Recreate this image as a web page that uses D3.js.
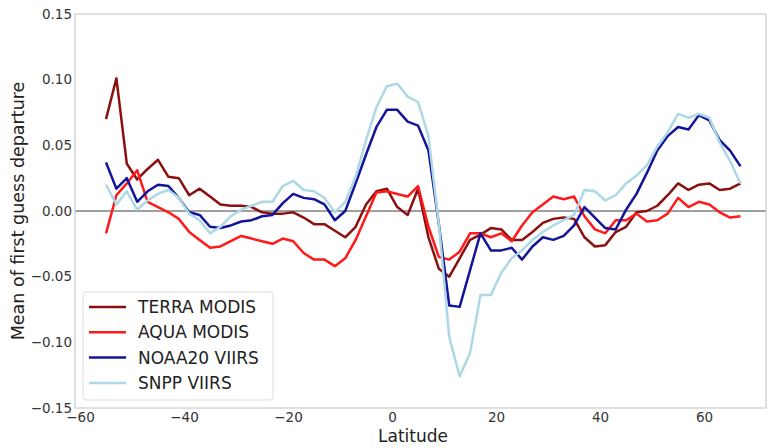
<!DOCTYPE html>
<html><head><meta charset="utf-8">
<script src="https://cdn.jsdelivr.net/npm/d3@7"></script>
<style>html,body{margin:0;padding:0;background:#fff;} svg{display:block;}</style>
</head><body>
<svg id="c" width="768" height="448"></svg>
<script>
const latitudes = d3.range(-55, 68, 2);
const terraModis = [0.070,0.101,0.036,0.024,0.032,0.039,0.026,0.025,0.012,0.017,0.011,0.005,0.004,0.004,0.003,-0.001,
 -0.002,-0.002,-0.001,-0.005,-0.010,-0.010,-0.015,-0.020,-0.012,0.005,0.015,0.017,0.003,-0.003,0.017,-0.020,
 -0.044,-0.050,-0.036,-0.022,-0.018,-0.013,-0.014,-0.022,-0.022,-0.016,-0.009,-0.006,-0.005,-0.006,-0.020,-0.027,
 -0.026,-0.016,-0.012,-0.001,0.000,0.004,0.012,0.021,0.016,0.020,0.021,0.016,0.017,0.021];
const aquaModis = [-0.017,0.012,0.021,0.031,0.007,0.003,-0.001,-0.006,-0.016,-0.022,-0.028,-0.027,-0.023,-0.019,-0.021,-0.023,
 -0.025,-0.021,-0.023,-0.032,-0.037,-0.037,-0.042,-0.036,-0.022,-0.004,0.014,0.015,0.013,0.011,0.019,-0.012,
 -0.035,-0.037,-0.031,-0.017,-0.017,-0.020,-0.017,-0.023,-0.011,-0.001,0.005,0.011,0.009,0.011,-0.004,-0.014,
 -0.017,-0.007,-0.007,-0.002,-0.008,-0.007,-0.002,0.010,0.003,0.007,0.005,-0.001,-0.005,-0.004];
const noaa20Viirs = [0.037,0.017,0.025,0.007,0.015,0.020,0.019,0.010,-0.001,-0.003,-0.012,-0.013,-0.011,-0.008,-0.007,-0.004,
 -0.003,0.006,0.013,0.010,0.009,0.005,-0.007,0.000,0.021,0.043,0.064,0.077,0.077,0.068,0.065,0.046,
 -0.010,-0.072,-0.073,-0.045,-0.017,-0.030,-0.030,-0.028,-0.037,-0.027,-0.020,-0.022,-0.019,-0.011,0.003,-0.005,
 -0.013,-0.014,0.001,0.013,0.029,0.046,0.057,0.064,0.062,0.073,0.069,0.054,0.046,0.034];
const snppViirs = [0.020,0.005,0.015,0.001,0.008,0.013,0.016,0.010,-0.002,-0.007,-0.017,-0.012,-0.004,0.001,0.004,0.007,
 0.007,0.019,0.023,0.016,0.015,0.010,-0.001,0.007,0.026,0.054,0.079,0.095,0.097,0.087,0.083,0.057,
 -0.010,-0.096,-0.126,-0.108,-0.064,-0.064,-0.047,-0.036,-0.030,-0.022,-0.016,-0.011,-0.007,-0.003,0.016,0.015,
 0.008,0.012,0.021,0.027,0.035,0.049,0.060,0.074,0.071,0.074,0.071,0.052,0.038,0.021];
const seriesNames = ["TERRA MODIS","AQUA MODIS","NOAA20 VIIRS","SNPP VIIRS"];
const seriesColors = ["#8b1010","#ff1a1a","#14149a","#add8e6"];
const seriesValues = [terraModis, aquaModis, noaa20Viirs, snppViirs];
const xTicks = [-60,-40,-20,0,20,40,60];
const yTicks = [-0.15,-0.10,-0.05,0.00,0.05,0.10,0.15];

const svg = d3.select("#c");
const L = 75, R = 766, T = 14, B = 408;
const x = d3.scaleLinear().domain([-60.96, 71.9]).range([L, R]);
const y = d3.scaleLinear().domain([-0.15, 0.15]).range([B, T]);
const font = "DejaVu Sans, sans-serif";

// zero line
svg.append("line").attr("x1", L).attr("x2", R).attr("y1", y(0)).attr("y2", y(0))
  .attr("stroke", "#7f7f7f").attr("stroke-width", 1.5);

const line = d3.line().x((d,i) => x(latitudes[i])).y(d => y(d));
seriesValues.forEach((vals, k) => {
  svg.append("path").datum(vals).attr("d", line).attr("fill", "none")
    .attr("stroke", seriesColors[k]).attr("stroke-width", 2.5).attr("stroke-linejoin", "round");
});

// frame
svg.append("rect").attr("x", L).attr("y", T).attr("width", R - L).attr("height", B - T)
  .attr("fill", "none").attr("stroke", "#cccccc").attr("stroke-width", 1.2);

// axes
const xAxis = svg.append("g").attr("transform", `translate(0,${B})`)
  .call(d3.axisBottom(x).tickValues(xTicks).tickSize(0).tickPadding(4).tickFormat(d => d < 0 ? "\u2212" + Math.abs(d) : d));
const yAxis = svg.append("g").attr("transform", `translate(${L},0)`)
  .call(d3.axisLeft(y).tickValues(yTicks).tickSize(0).tickPadding(3).tickFormat(d => (d < 0 ? "\u2212" : "") + Math.abs(d).toFixed(2)));
[xAxis, yAxis].forEach(g => {
  g.select(".domain").remove();
  g.selectAll("text").attr("font-family", font).attr("font-size", 13.5).attr("fill", "#333");
});

svg.append("text").attr("x", 413).attr("y", 442).attr("text-anchor", "middle")
  .attr("font-family", font).attr("font-size", 17).attr("fill", "#222").text("Latitude");
svg.append("text").attr("transform", `translate(24,${(T + B) / 2}) rotate(-90)`).attr("text-anchor", "middle")
  .attr("font-family", font).attr("font-size", 17.5).attr("fill", "#222").text("Mean of first guess departure");

// legend
const lg = svg.append("g");
lg.append("rect").attr("x", 83).attr("y", 292).attr("width", 190).attr("height", 108).attr("rx", 3)
  .attr("fill", "#fff").attr("fill-opacity", 0.8).attr("stroke", "#dddddd");
seriesNames.forEach((n, k) => {
  const yy = 307 + k * 25.3;
  lg.append("line").attr("x1", 89).attr("x2", 126).attr("y1", yy).attr("y2", yy)
    .attr("stroke", seriesColors[k]).attr("stroke-width", 2.5);
  lg.append("text").attr("x", 138).attr("y", yy).attr("dy", "0.36em")
    .attr("font-family", font).attr("font-size", 17).attr("fill", "#222").text(n);
});
</script>
</body></html>
